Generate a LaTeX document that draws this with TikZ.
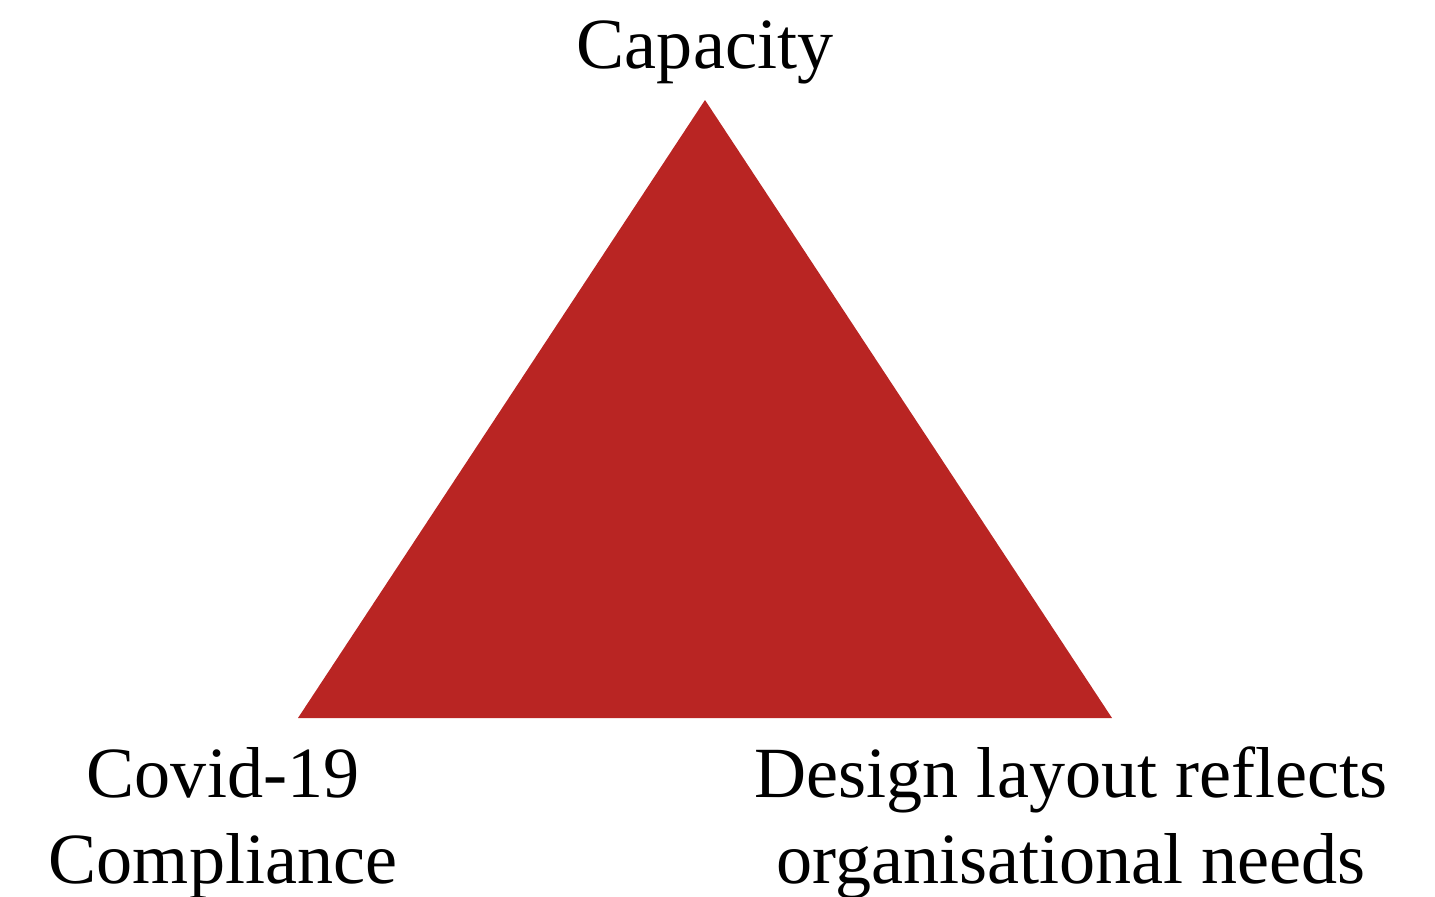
\documentclass[tikz,border=0pt]{standalone}
\usepackage{fontspec}
\setmainfont{Liberation Serif}
\usetikzlibrary{positioning}
\definecolor{trired}{HTML}{B92523}
\begin{document}
\begin{tikzpicture}[x=0.01cm,y=-0.01cm,
	corner/.style={font=\fontsize{20.5}{24.2}\selectfont,align=center,inner sep=0pt,anchor=base}]
	\useasboundingbox (0,0) rectangle (1435,897);
	\coordinate (apex) at (705,100);
	\coordinate (left) at (298,718);
	\coordinate (right) at (1112,718);
	\fill[trired] (apex) -- (left) -- (right) -- cycle;
	\node[corner] (capacity) at (705,68) {Capacity};
	\node[corner] (covid) at (223,883) {Covid-19\\Compliance};
	\node[corner] (design) at (1071,883) {Design layout reflects\\organisational needs};
\end{tikzpicture}
\end{document}
